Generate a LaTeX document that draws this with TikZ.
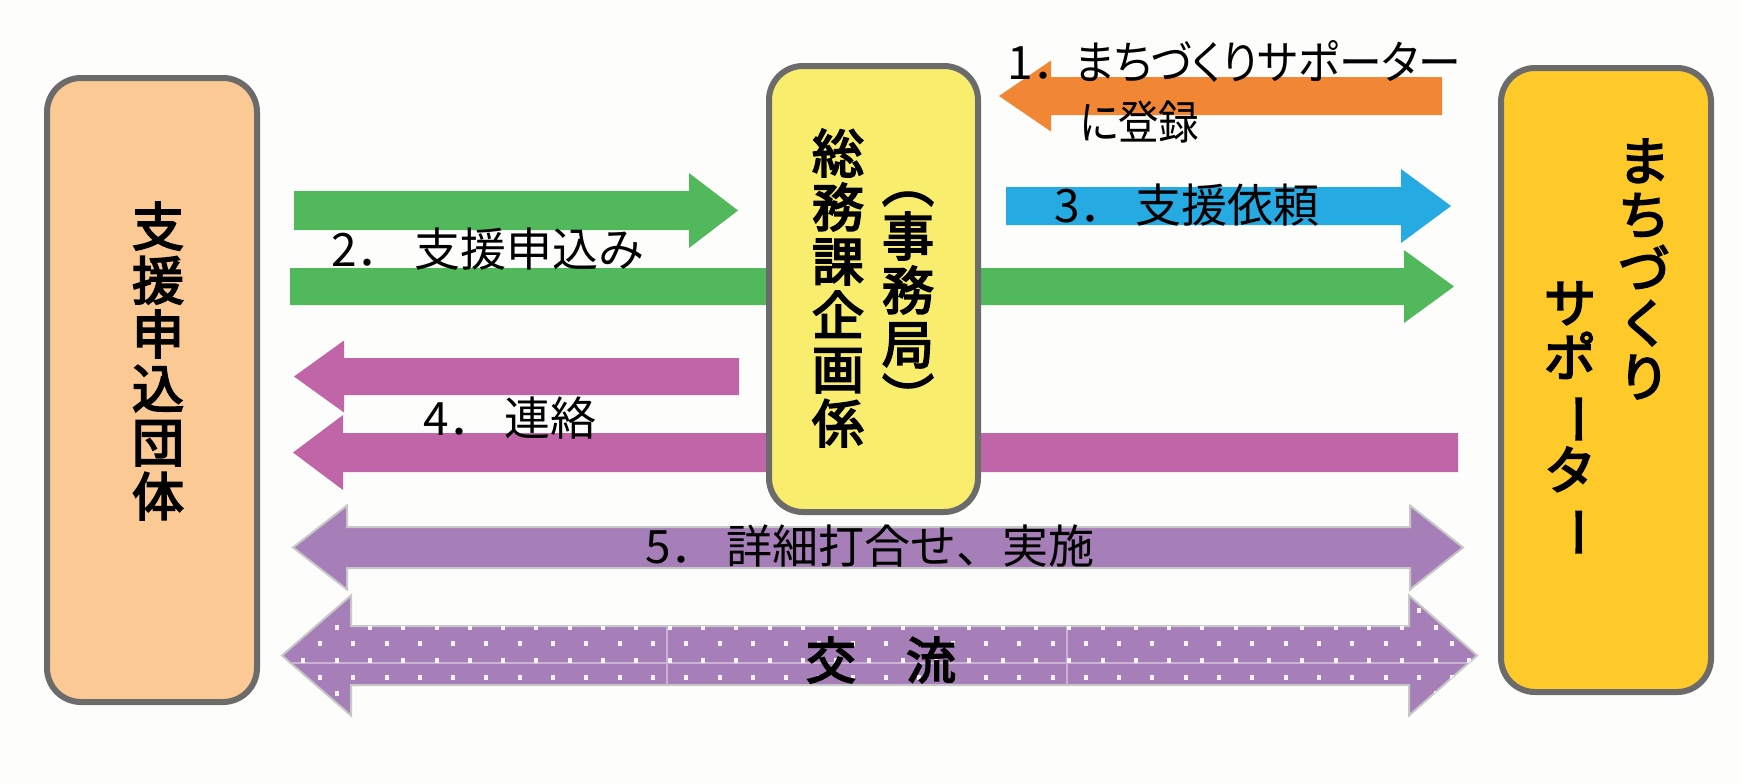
\documentclass[tikz,border=0pt]{standalone}
\usepackage{fontspec}
\setmainfont{Noto Sans CJK JP}
\newfontfamily\jpp[RawFeature=+palt]{Noto Sans CJK JP}
\newfontfamily\jpm[FakeBold=3.5]{Noto Sans CJK JP}
\usepackage{graphicx}
\definecolor{bgc}{RGB}{253,253,251}
\definecolor{peach}{RGB}{251,201,147}
\definecolor{ylw}{RGB}{249,237,110}
\definecolor{gold}{RGB}{254,202,42}
\definecolor{orng}{RGB}{241,134,52}
\definecolor{grn}{RGB}{82,184,92}
\definecolor{blu}{RGB}{38,170,226}
\definecolor{pnk}{RGB}{192,102,168}
\definecolor{prp}{RGB}{166,127,184}
\definecolor{bord}{RGB}{107,107,107}
% tail x, head base x, tip x, y centre, shaft half, head half, style
\newcommand\blockarr[7]{\fill[#7] (#1,{#4-#5}) -- (#2,{#4-#5}) -- (#2,{#4-#6}) -- (#3,#4) -- (#2,{#4+#6}) -- (#2,{#4+#5}) -- (#1,{#4+#5}) -- cycle;}
% left tip, left base, right base, right tip, y centre, shaft half, head half
\newcommand\dblpath[7]{(#1,#5) -- (#2,{#5-#7}) -- (#2,{#5-#6}) -- (#3,{#5-#6}) -- (#3,{#5-#7}) -- (#4,#5) -- (#3,{#5+#7}) -- (#3,{#5+#6}) -- (#2,{#5+#6}) -- (#2,{#5+#7}) -- cycle}
\newcommand\vbar{\rotatebox[origin=c]{-90}{ー}}
\newcommand\vlp{\rotatebox[origin=c]{-90}{（}}
\newcommand\vrp{\rotatebox[origin=c]{-90}{）}}
\begin{document}
\begin{tikzpicture}[x=0.5pt,y=-0.5pt,
  box/.style={draw=bord,line width=3pt,rounded corners=17pt,inner sep=0pt},
  vtext/.style={align=center,inner sep=0pt,font=\fontsize{26}{27}\selectfont\jpm},
  lbl/.style={anchor=west,inner sep=0pt,font=\fontsize{23}{27}\selectfont},
  pline/.style={draw=black!22,line width=1pt}]
\useasboundingbox[fill=bgc] (0,0) rectangle (1740,783);
% arrows
\blockarr{1442}{1051}{999}{96}{19}{35.5}{orng}
\blockarr{294}{689}{738}{210.5}{19.5}{37.5}{grn}
\blockarr{290}{1404}{1454}{286.5}{18.5}{36.5}{grn}
\blockarr{1006}{1401}{1451}{206}{19}{37}{blu}
\blockarr{739}{344}{294}{376.5}{18.5}{36}{pnk}
\blockarr{1458}{343}{293}{452.5}{19.5}{37.5}{pnk}
\filldraw[fill=prp,pline] \dblpath{293}{347}{1410}{1463}{547.5}{20.5}{42};
\filldraw[fill=prp,pline] \dblpath{282}{351}{1409}{1477}{655.5}{29.5}{60};
\begin{scope}
\clip \dblpath{282}{351}{1409}{1477}{655.5}{29.5}{60};
\draw[prp!60!white,line width=0.6pt] (282,663) -- (1477,663) (667,626) -- (667,685) (1067,626) -- (1067,685);
\foreach \r in {0,...,8} {
  \pgfmathsetmacro\yy{594+\r*16.65}
  \pgfmathsetmacro\off{mod(\r,2)*16.65}
  \foreach \c in {0,...,37} {
    \fill[white,opacity=0.9] ({270+\off+\c*33.3-2},{\yy-2.5}) rectangle ++(4,5);
  }
}
\end{scope}
% boxes
\node[box,fill=peach,minimum width=105pt,minimum height=312pt] (org) at (152,390) {};
\node[box,fill=ylw,minimum width=104.5pt,minimum height=223pt] (sec) at (873.5,289) {};
\node[box,fill=gold,minimum width=105pt,minimum height=312pt] (sup) at (1606,380) {};
% box texts
\node[vtext] (orgt) at (158,361) {支\\援\\申\\込\\団\\体};
\node[vtext] (sect1) at (838,288) {総\\務\\課\\企\\画\\係};
\node[vtext] (sect2) at (908,290) {\vlp\\事\\務\\局\\\vrp};
\node[vtext] (supt1) at (1644,269) {ま\\ち\\づ\\く\\り};
\node[vtext] (supt2) at (1570,420) {サ\\ポ\\\vbar\\タ\\\vbar};
% labels
\node[lbl] (l1) at (1007,61) {1．\hspace{-0.1em}\scalebox{0.93}[1]{\jpp まちづくりサポーター}};
\node[lbl] (l1b) at (1079,122) {\scalebox{0.88}[1]{\jpp に登録}};
\node[lbl] (l2) at (331,249) {2．\hspace{0.25em}支援申込み};
\node[lbl] (l3) at (1054,205) {3．\hspace{0.2em}支援依頼};
\node[lbl] (l4) at (423,418) {4．\hspace{0.2em}連絡};
\node[lbl] (l5) at (645,546) {5．\hspace{0.2em}詳細打合せ、実施};
\node[inner sep=0pt,font=\fontsize{25}{27}\selectfont\jpm] (l6) at (881,660) {交　流};
\end{tikzpicture}
\end{document}
